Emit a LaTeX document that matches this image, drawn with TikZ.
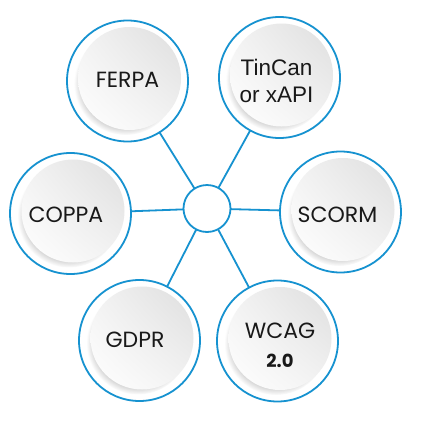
\documentclass[tikz,border=0pt]{standalone}
\usepackage{fontspec}
\setmainfont{Poppins}
\newfontfamily\arialf{Liberation Sans}
\usetikzlibrary{shadows,shadings}
\definecolor{ringblue}{RGB}{22,146,208}
\definecolor{txt}{RGB}{25,25,25}
\tikzset{
  ring/.style={circle, draw=ringblue, line width=1.8pt, fill=white, minimum size=121pt, inner sep=0pt, outer sep=0pt},
  hub/.style={circle, draw=ringblue, line width=1.8pt, fill=white, minimum size=47pt, inner sep=0pt, outer sep=0pt},
  disc/.style={circle, minimum size=103pt, inner sep=0pt, draw=none,
     upper right=black!13, lower left=white, upper left=black!5, lower right=black!5,
     circular drop shadow={shadow xshift=-4pt, shadow yshift=-5pt, opacity=0.4, shadow scale=1.0, fill=black!45}},
  conn/.style={draw=ringblue, line width=1.8pt},
  lbl/.style={text=txt, font=\fontsize{22}{26}\selectfont, align=center, inner sep=0pt},
}
\begin{document}
\begin{tikzpicture}[x=1pt,y=-1pt]
\useasboundingbox (0,0) rectangle (431,432);
\fill[white] (0,0) rectangle (431,432);
% hub and outer rings
\node[hub] (hub) at (207,208.5) {};
\node[ring] (ferpa) at (127.5,81) {};
\node[ring] (tincan) at (279.5,77.5) {};
\node[ring] (coppa) at (70.5,213.5) {};
\node[ring] (scorm) at (340.5,212) {};
\node[ring] (gdpr) at (139.5,340.5) {};
\node[ring] (wcag) at (277.5,341) {};
% connectors
\draw[conn] (hub) -- (ferpa);
\draw[conn] (hub) -- (tincan);
\draw[conn] (hub) -- (coppa);
\draw[conn] (hub) -- (scorm);
\draw[conn] (hub) -- (gdpr);
\draw[conn] (hub) -- (wcag);
% inner discs
\node[disc] (dferpa) at (129.5,78.5) {};
\node[disc] (dtincan) at (281.5,75) {};
\node[disc] (dcoppa) at (73,211) {};
\node[disc] (dscorm) at (343,209.5) {};
\node[disc] (dgdpr) at (142,338) {};
\node[disc] (dwcag) at (280,338.5) {};
% labels
\node[lbl] (tferpa) at (127.5,79.5) {FERPA};
\node[lbl, font=\arialf\fontsize{22.5}{27}\selectfont] (ttincan) at (276.5,81) {TinCan\\or xAPI};
\node[lbl] (tcoppa) at (66,214.5) {COPPA};
\node[lbl] (tscorm) at (337.5,214.5) {SCORM};
\node[lbl] (tgdpr) at (135,340) {GDPR};
\node[lbl, font=\fontsize{22}{29}\selectfont] (twcag) at (280,345) {WCAG\\{\fontsize{18}{29}\selectfont\bfseries 2.0}};
\end{tikzpicture}
\end{document}
